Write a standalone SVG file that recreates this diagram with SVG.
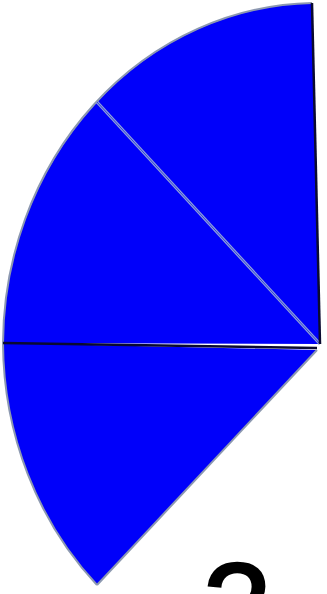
<svg xmlns="http://www.w3.org/2000/svg" width="327" height="594" viewBox="0 0 327 594">
<style>
.sec{fill:#0000fa;stroke:none}
.arc{fill:none;stroke:#8c98b0;stroke-width:2}
.light{stroke:#8fa0d8;stroke-width:3;fill:none}
.lightc{stroke:#3040e0;stroke-width:1;fill:none}
.dark{stroke:#0a0a30;stroke-width:2.5;fill:none}
.lbl{font-family:"Liberation Sans",Arial,sans-serif;font-size:125px;fill:#000;stroke:#000;stroke-width:2.5}
</style>
<rect width="327" height="594" fill="#fff"/>
<g id="sector-top">
<path class="sec" d="M320,344 L312,3 A315,342 0 0,0 97,102 Z"/>
</g>
<g id="sector-middle">
<path class="sec" d="M320,344 L97,102 A315,342 0 0,0 3,343 Z"/>
</g>
<g id="sector-bottom">
<path class="sec" d="M317,350 L3,343 A315,342 0 0,0 97,585 Z"/>
</g>
<g id="edges">
<path class="arc" d="M312,3 A315,342 0 0,0 3,343 A315,342 0 0,0 97,585"/>
<path class="light" d="M97,102 L320,344"/>
<path class="lightc" d="M97,102 L320,344"/>
<path class="dark" d="M3,343 L317,348"/>
<path class="dark" d="M312,3 L320,344"/>
<path class="arc" stroke-width="1.5" d="M317,350 L97,585"/>
</g>
<text class="lbl" x="237" y="650" text-anchor="middle">2</text>
</svg>
